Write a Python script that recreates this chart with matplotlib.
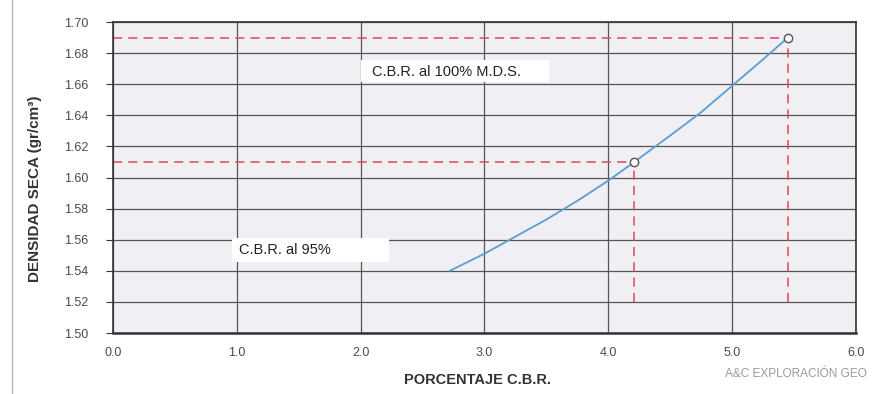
import matplotlib
matplotlib.use("Agg")
import matplotlib.pyplot as plt
from matplotlib.patches import Rectangle

plt.rcParams['font.family'] = ['Liberation Sans', 'DejaVu Sans']

# curve
cbr = [2.72, 3.0, 3.25, 3.5, 3.75, 4.0, 4.21, 4.5, 4.75, 5.0, 5.25, 5.45]
dens = [1.540, 1.551, 1.562, 1.573, 1.585, 1.598, 1.610, 1.627, 1.642, 1.659, 1.676, 1.690]

# design points (95% and 100% M.D.S.)
pt_cbr = [4.21, 5.45]
pt_dens = [1.61, 1.69]

xticks = [0.0, 1.0, 2.0, 3.0, 4.0, 5.0, 6.0]
yticks = [1.50, 1.52, 1.54, 1.56, 1.58, 1.60, 1.62, 1.64, 1.66, 1.68, 1.70]

fig = plt.figure(figsize=(8.73, 3.94), dpi=100)
ax = fig.add_axes([0.1294, 0.1548, 0.8511, 0.7893])
ax.set_facecolor('#efeff4')

ax.set_xlim(0, 6)
ax.set_ylim(1.50, 1.70)
ax.set_xticks(xticks)
ax.set_yticks(yticks)
ax.set_xticklabels(['%.1f' % v for v in xticks], fontsize=9, color='#4a4a4a')
ax.set_yticklabels(['%.2f' % v for v in yticks], fontsize=9, color='#4a4a4a')
ax.grid(True, color='#555555', linewidth=0.9)
ax.set_axisbelow(True)
ax.tick_params(axis='y', length=5, color='#333333', pad=13)
ax.tick_params(axis='x', length=0, pad=10)
for s in ax.spines.values():
    s.set_color('#333333')
    s.set_linewidth(1.2)
ax.spines['bottom'].set_linewidth(1.8)

# red reference lines
for xv, yv in zip(pt_cbr, pt_dens):
    ax.plot([0, xv], [yv, yv], color='#e0485a', linestyle=(0, (6, 4)), linewidth=1.1)
    ax.plot([xv, xv], [1.52, yv], color='#e0485a', linestyle=(0, (6, 4)), linewidth=1.1)

ax.plot(cbr, dens, color='#5a9fd0', linewidth=1.3)
ax.plot(pt_cbr, pt_dens, 'o', markersize=6, markerfacecolor='white',
        markeredgecolor='#555555', markeredgewidth=1.0)

# white label boxes
ax.add_patch(Rectangle((2.0, 1.6615), 1.52, 0.014, facecolor='white', edgecolor='none', zorder=1.5))
ax.add_patch(Rectangle((0.96, 1.5457), 1.27, 0.0155, facecolor='white', edgecolor='none', zorder=1.5))
ax.text(2.09, 1.668, 'C.B.R. al 100% M.D.S.', fontsize=10.5, va='center', color='#222222')
ax.text(1.02, 1.5534, 'C.B.R. al 95%', fontsize=10.5, va='center', color='#222222')

ax.set_xlabel('PORCENTAJE C.B.R.', fontsize=10.5, fontweight='bold', color='#333333')
ax.set_ylabel('DENSIDAD SECA (gr/cm³)', fontsize=11, fontweight='bold', color='#333333')
ax.xaxis.set_label_coords(0.49, -0.151)
ax.xaxis.label.set_va('center')
ax.yaxis.set_label_coords(-0.105, 0.463)
ax.yaxis.label.set_va('center')

# stamp text of the scanned sheet
fig.text(0.831, 0.052, 'A&C EXPLORACIÓN GEO', fontsize=8.5, color='#9a9a9a', ha='left', va='center')
fig.add_artist(plt.Line2D([0.014, 0.014], [0, 1], color='#bbbbbb', linewidth=1))

fig.savefig('out.png', dpi=100)
